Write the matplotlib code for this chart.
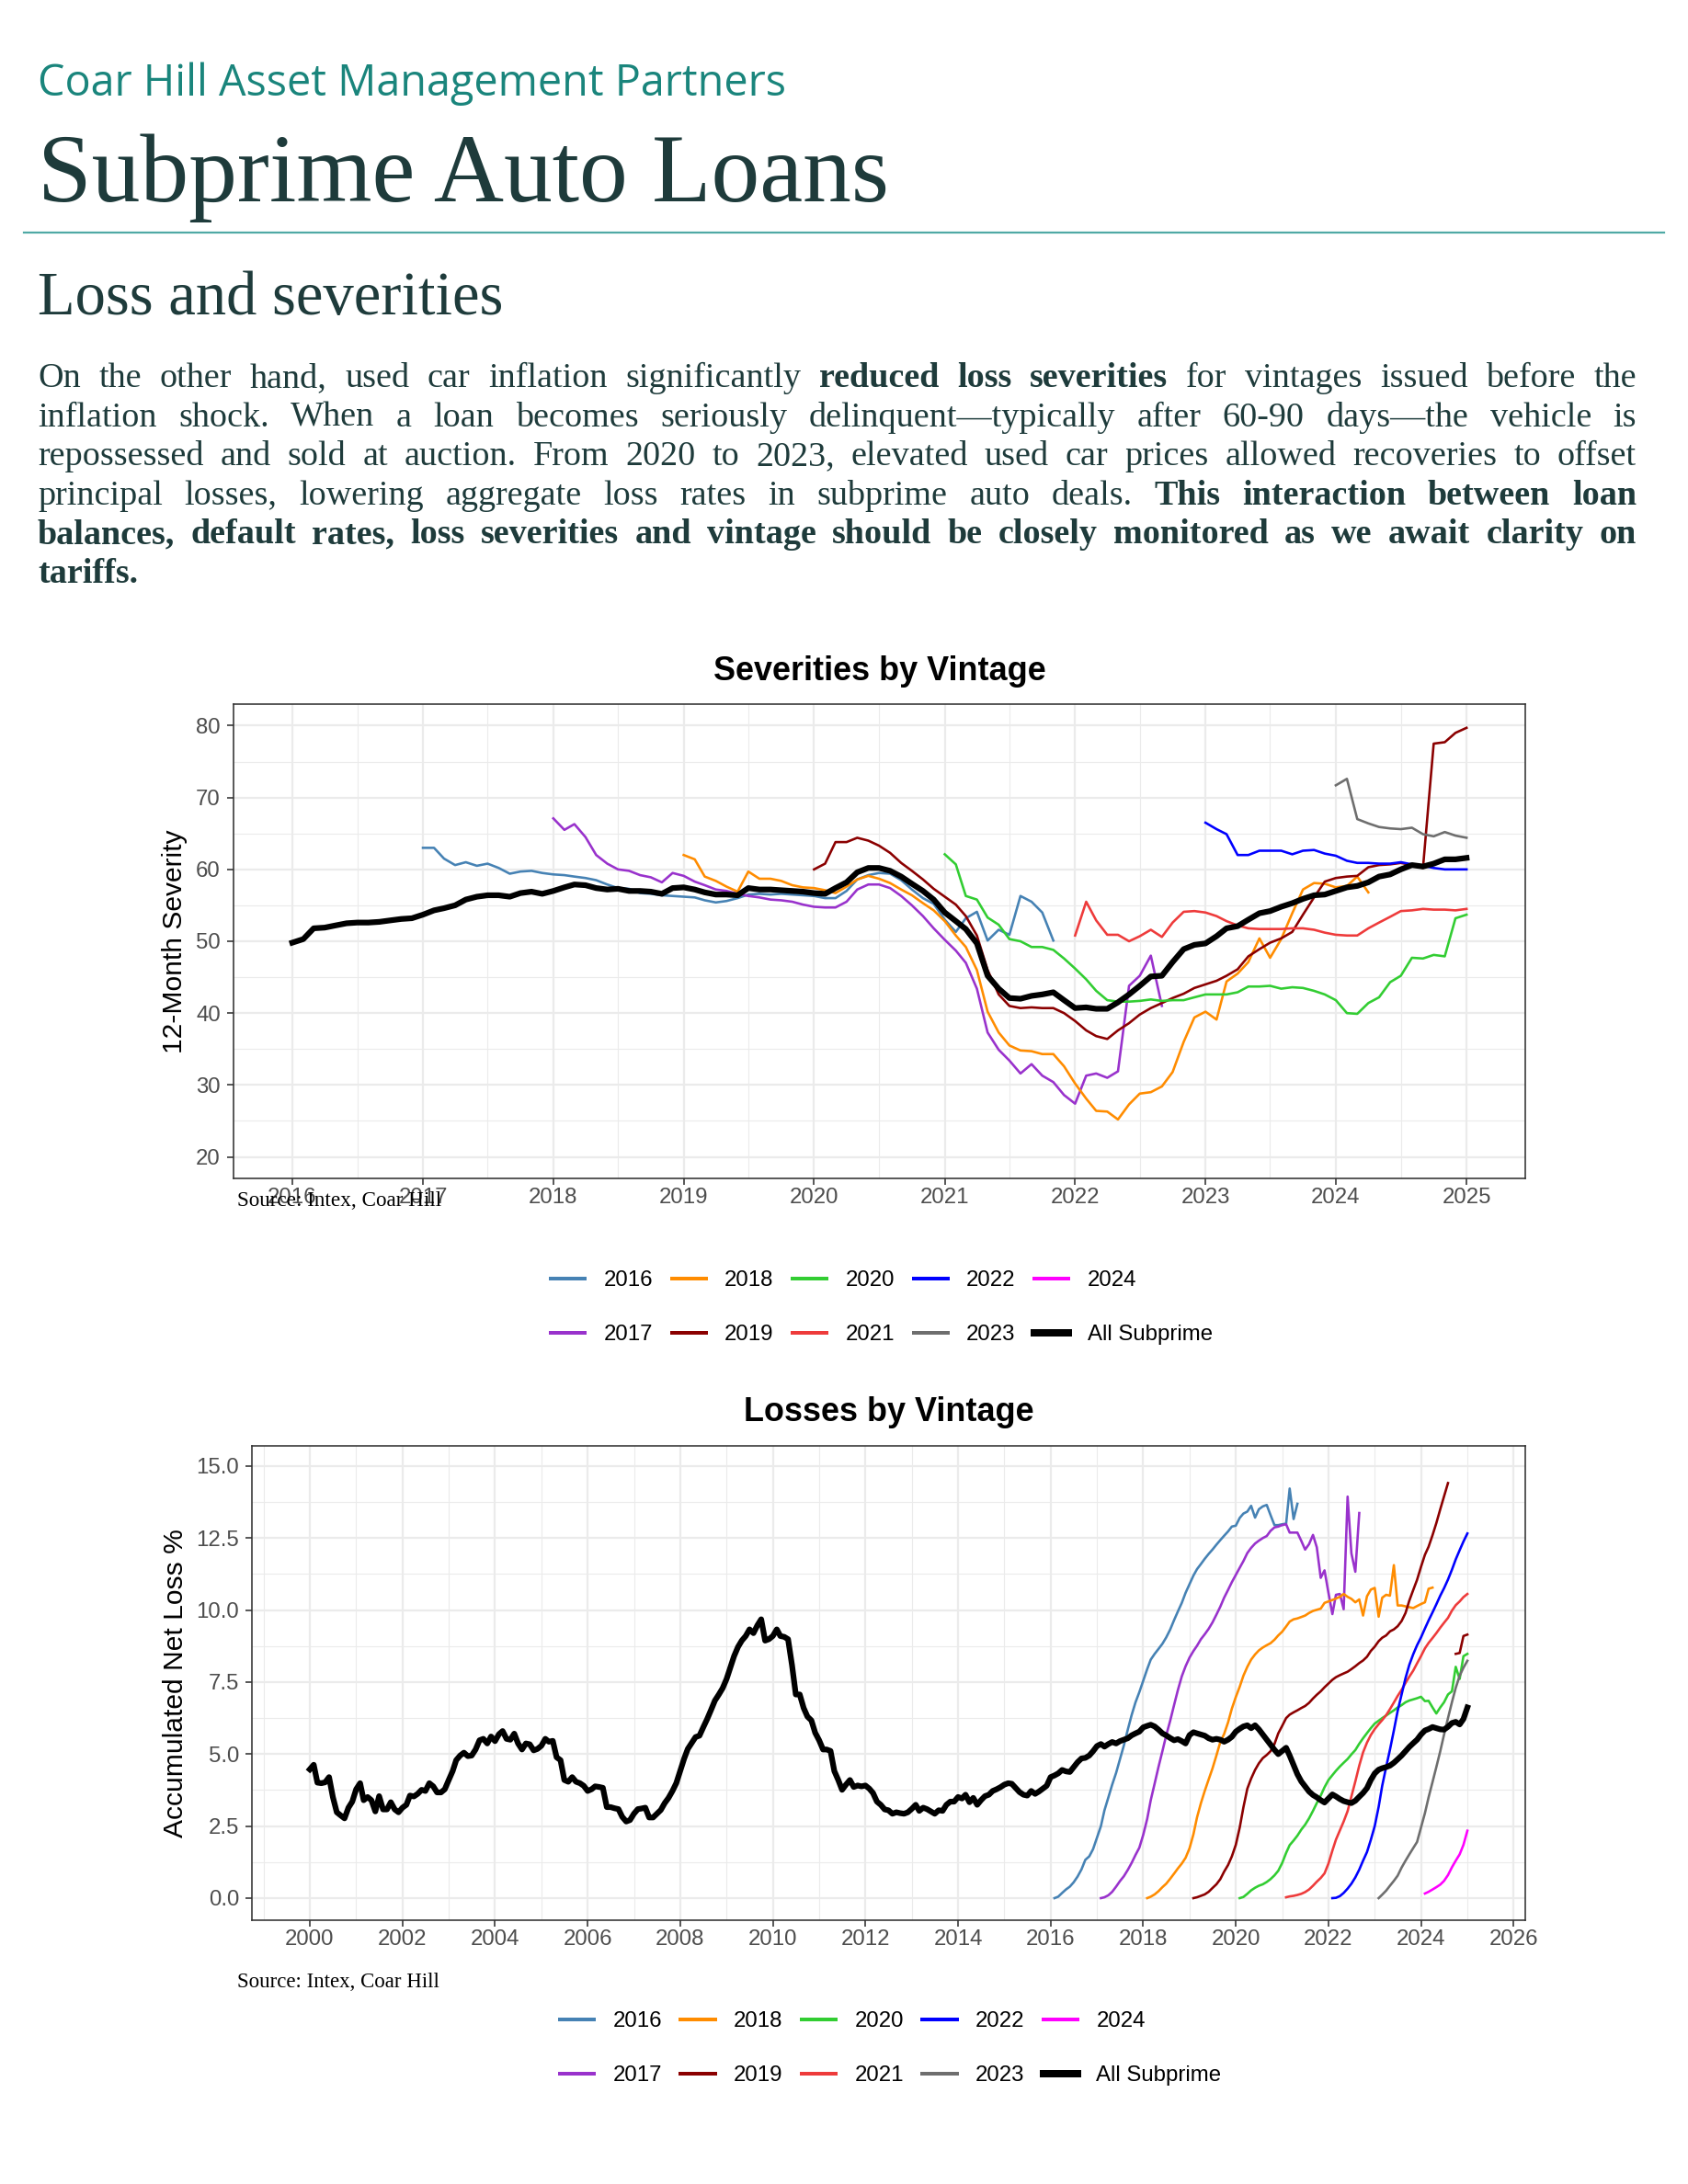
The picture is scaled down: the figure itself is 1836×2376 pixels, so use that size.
import numpy as np
import pandas as pd
import matplotlib
matplotlib.use("Agg")
import matplotlib.pyplot as plt
import matplotlib.dates as mdates
from matplotlib.lines import Line2D
from matplotlib.ticker import MultipleLocator, FormatStrFormatter

W, H, DPI = 1836, 2376, 72

plt.rcParams["font.family"] = ["Liberation Sans", "DejaVu Sans"]

# ---------------------------------------------------------------- data
VINTAGES = ["2016", "2017", "2018", "2019", "2020", "2021", "2022", "2023", "2024"]
VINTAGE_COLORS = ["#4682B4", "#9932CC", "#FF8C00", "#8B0000", "#32CD32",
                  "#EE3B3B", "#0000FF", "#6E6E6E", "#FF00FF"]

# 12-month severity, monthly, first month given in SEV_START
SEV_START = {"2016": "2017-01", "2017": "2018-01", "2018": "2019-01", "2019": "2020-01",
             "2020": "2021-01", "2021": "2022-01", "2022": "2023-01", "2023": "2024-01"}
SEV_2016 = [63.0, 63.0, 61.5, 60.6, 61.0, 60.5, 60.8, 60.2, 59.4, 59.7, 59.8, 59.5,
            59.3, 59.2, 59.0, 58.8, 58.5, 57.9, 57.4, 57.3, 56.7, 56.6, 56.4, 56.3,
            56.2, 56.1, 55.7, 55.4, 55.6, 56.0, 56.5, 56.6, 56.5, 56.6, 56.5, 56.4,
            56.3, 56.0, 56.0, 57.0, 58.6, 59.2, 59.5, 59.4, 58.5, 57.2, 56.0, 55.2,
            53.0, 51.3, 53.2, 54.1, 50.1, 51.6, 50.9, 56.3, 55.5, 54.0, 50.1]
SEV_2017 = [67.1, 65.5, 66.3, 64.5, 62.0, 60.8, 60.0, 59.8, 59.2, 58.9, 58.2, 59.5,
            59.1, 58.3, 57.8, 57.2, 57.0, 56.6, 56.3, 56.1, 55.8, 55.7, 55.5, 55.1,
            54.8, 54.7, 54.7, 55.5, 57.2, 57.9, 57.9, 57.4, 56.3, 55.0, 53.5, 51.8,
            50.2, 48.7, 47.0, 43.4, 37.3, 34.9, 33.4, 31.6, 32.9, 31.3, 30.4, 28.6,
            27.4, 31.3, 31.6, 31.0, 31.9, 43.8, 45.2, 48.0, 41.0]
SEV_2018 = [62.0, 61.4, 59.0, 58.4, 57.6, 56.9, 59.7, 58.7, 58.7, 58.4, 57.8, 57.5,
            57.4, 57.1, 56.7, 57.6, 58.6, 59.1, 58.7, 58.1, 57.2, 56.4, 55.3, 54.3,
            52.8, 50.8, 49.2, 46.0, 40.2, 37.3, 35.5, 34.8, 34.7, 34.3, 34.3, 32.6,
            30.2, 28.1, 26.4, 26.3, 25.2, 27.3, 28.8, 29.0, 29.8, 31.8, 36.0, 39.4,
            40.2, 39.1, 44.4, 45.5, 47.1, 50.4, 47.7, 50.3, 53.9, 57.2, 58.1, 58.0,
            57.5, 57.7, 59.0, 56.8]
SEV_2019 = [60.0, 60.8, 63.8, 63.8, 64.4, 64.0, 63.3, 62.3, 60.9, 59.8, 58.6, 57.3,
            56.2, 55.1, 53.5, 50.8, 46.0, 42.6, 41.0, 40.7, 40.8, 40.7, 40.7, 40.0,
            38.9, 37.6, 36.8, 36.4, 37.6, 38.6, 39.8, 40.7, 41.4, 42.1, 42.7, 43.5,
            44.0, 44.5, 45.2, 46.1, 47.9, 48.9, 49.8, 50.4, 51.3, 53.7, 56.1, 58.3,
            58.8, 59.0, 59.1, 60.3, 60.6, 60.7, 60.9, 60.6, 60.2, 77.5, 77.7, 79.0,
            79.7]
SEV_2020 = [62.1, 60.7, 56.3, 55.8, 53.3, 52.3, 50.3, 50.0, 49.2, 49.2, 48.8, 47.6,
            46.2, 44.7, 43.1, 41.8, 41.6, 41.6, 41.7, 41.9, 41.7, 41.8, 41.8, 42.2,
            42.6, 42.6, 42.6, 42.9, 43.7, 43.7, 43.8, 43.4, 43.6, 43.5, 43.1, 42.6,
            41.8, 40.0, 39.9, 41.4, 42.2, 44.3, 45.2, 47.7, 47.6, 48.1, 47.9, 53.2,
            53.7]
SEV_2021 = [50.8, 55.5, 52.9, 50.9, 50.9, 50.0, 50.7, 51.6, 50.6, 52.6, 54.1, 54.2,
            54.0, 53.5, 52.8, 52.2, 51.8, 51.7, 51.7, 51.7, 51.8, 51.8, 51.6, 51.2,
            50.9, 50.8, 50.8, 51.8, 52.6, 53.4, 54.2, 54.3, 54.5, 54.4, 54.4, 54.3,
            54.5]
SEV_2022 = [66.5, 65.6, 64.9, 62.0, 62.0, 62.6, 62.6, 62.6, 62.1, 62.6, 62.7, 62.2,
            61.9, 61.2, 60.9, 60.9, 60.8, 60.8, 61.0, 60.7, 60.5, 60.2, 60.0, 60.0,
            60.0]
SEV_2023 = [71.7, 72.6, 67.0, 66.4, 65.9, 65.7, 65.6, 65.8, 64.9, 64.6, 65.2, 64.7,
            64.4]
SEV_ALL_START = "2016-01"
SEV_ALL = [49.8, 50.3, 51.8, 51.9, 52.2, 52.5, 52.6, 52.6, 52.7, 52.9, 53.1, 53.2,
           53.7, 54.3, 54.6, 55.0, 55.8, 56.2, 56.4, 56.4, 56.2, 56.7, 56.9, 56.6,
           57.0, 57.5, 57.9, 57.8, 57.4, 57.2, 57.3, 57.0, 57.0, 56.9, 56.6, 57.4,
           57.5, 57.2, 56.8, 56.5, 56.5, 56.4, 57.4, 57.2, 57.2, 57.1, 57.0, 56.9,
           56.7, 56.6, 57.4, 58.2, 59.6, 60.2, 60.2, 59.8, 59.0, 58.0, 57.0, 55.8,
           54.0, 52.8, 51.7, 49.7, 45.2, 43.4, 42.1, 42.0, 42.4, 42.6, 42.9, 41.8,
           40.7, 40.8, 40.6, 40.6, 41.5, 42.6, 43.8, 45.1, 45.2, 47.1, 48.9, 49.5,
           49.7, 50.7, 51.8, 52.1, 53.0, 53.9, 54.2, 54.8, 55.3, 55.9, 56.4, 56.5,
           57.0, 57.5, 57.7, 58.2, 59.0, 59.3, 60.0, 60.6, 60.4, 60.8, 61.4, 61.4,
           61.6]

# accumulated net loss %, monthly
LOSS_START = {"2016": "2016-02", "2017": "2017-02", "2018": "2018-02", "2019": "2019-02",
              "2020": "2020-02", "2021": "2021-02", "2022": "2022-02", "2023": "2023-02",
              "2024": "2024-02"}
LOSS_2016 = [0.0, 0.05, 0.18, 0.3, 0.4, 0.55, 0.75, 1.0, 1.33, 1.45, 1.7,
             2.1, 2.5, 3.05, 3.5, 3.94, 4.35, 4.82, 5.3, 5.85, 6.35, 6.8, 7.15,
             7.55, 7.95, 8.28, 8.48, 8.65, 8.83, 9.05, 9.32, 9.65, 9.95, 10.25, 10.6,
             10.9, 11.2, 11.42, 11.6, 11.78, 11.95, 12.1, 12.27, 12.43, 12.58, 12.73, 12.9,
             12.93, 13.2, 13.35, 13.42, 13.62, 13.21, 13.5, 13.6, 13.65, 13.3, 12.95, 12.95,
             12.98, 13.0, 14.22, 13.16, 13.69]
LOSS_2017 = [0.0, 0.03, 0.1, 0.22, 0.4, 0.59, 0.76, 0.98, 1.22, 1.5, 1.75,
             2.2, 2.75, 3.4, 3.98, 4.55, 5.1, 5.65, 6.15, 6.7, 7.22, 7.7, 8.05,
             8.35, 8.58, 8.76, 8.99, 9.16, 9.35, 9.57, 9.84, 10.12, 10.43, 10.7, 10.97,
             11.22, 11.47, 11.7, 11.98, 12.16, 12.31, 12.41, 12.5, 12.57, 12.75, 12.87, 12.9,
             12.95, 12.98, 12.69, 12.69, 12.69, 12.4, 12.1, 12.29, 12.61, 12.18, 11.12, 11.38,
             10.6, 9.86, 10.53, 10.56, 10.03, 13.94, 11.97, 11.33, 13.37]
LOSS_2018 = [0.0, 0.05, 0.13, 0.24, 0.38, 0.5, 0.67, 0.85, 1.03, 1.2, 1.4,
             1.73, 2.22, 2.8, 3.3, 3.72, 4.12, 4.5, 4.95, 5.42, 5.7, 6.1, 6.58,
             6.98, 7.34, 7.72, 8.03, 8.28, 8.46, 8.6, 8.7, 8.78, 8.85, 8.97, 9.12,
             9.25, 9.43, 9.6, 9.68, 9.71, 9.76, 9.81, 9.9, 9.97, 10.01, 10.05, 10.25,
             10.3, 10.35, 10.4, 10.46, 10.56, 10.46, 10.39, 10.27, 10.37, 9.81, 10.48, 10.71,
             10.77, 9.77, 10.43, 10.53, 10.5, 11.56, 10.16, 10.16, 10.13, 10.1, 10.07, 10.14,
             10.21, 10.27, 10.74, 10.78]
LOSS_2019 = [0.0, 0.03, 0.08, 0.13, 0.22, 0.35, 0.48, 0.66, 0.92, 1.15, 1.45,
             1.85, 2.45, 3.15, 3.8, 4.15, 4.45, 4.68, 4.86, 4.97, 5.1, 5.35, 5.72,
             5.98, 6.25, 6.37, 6.45, 6.52, 6.6, 6.67, 6.78, 6.93, 7.06, 7.18, 7.32,
             7.45, 7.58, 7.67, 7.74, 7.8, 7.86, 7.95, 8.05, 8.16, 8.25, 8.38, 8.58,
             8.73, 8.92, 9.04, 9.12, 9.26, 9.33, 9.44, 9.62, 9.9, 10.33, 10.7, 11.05,
             11.5, 11.92, 12.2, 12.6, 13.02, 13.5, 13.95, 14.41, np.nan, 8.48, 8.51, 9.1,
             9.15]
LOSS_2020 = [0.0, 0.04, 0.15, 0.27, 0.36, 0.43, 0.48, 0.56, 0.66, 0.79, 0.95,
             1.22, 1.57, 1.84, 2.0, 2.17, 2.38, 2.55, 2.77, 3.03, 3.3, 3.56, 3.85,
             4.1, 4.27, 4.42, 4.57, 4.7, 4.83, 4.99, 5.14, 5.36, 5.55, 5.73, 5.9,
             6.06, 6.16, 6.25, 6.34, 6.43, 6.52, 6.62, 6.7, 6.8, 6.86, 6.9, 6.94,
             6.99, 6.84, 6.85, 6.62, 6.41, 6.62, 6.8, 7.07, 7.18, 8.03, 7.61, 8.4,
             8.48]
LOSS_2021 = [0.03, 0.06, 0.08, 0.11, 0.15, 0.21, 0.3, 0.43, 0.57, 0.7, 0.86,
             1.2, 1.65, 2.03, 2.35, 2.66, 3.02, 3.53, 4.05, 4.6, 5.06, 5.4, 5.66,
             5.87, 6.04, 6.18, 6.35, 6.56, 6.79, 7.02, 7.23, 7.47, 7.69, 7.9, 8.15,
             8.4, 8.67, 8.86, 9.03, 9.2, 9.39, 9.56, 9.73, 9.98, 10.17, 10.3, 10.45,
             10.56]
LOSS_2022 = [0.0, 0.01, 0.07, 0.18, 0.33, 0.5, 0.72, 0.99, 1.3, 1.6, 2.02,
             2.5, 3.17, 3.9, 4.55, 5.15, 5.82, 6.5, 7.07, 7.64, 8.1, 8.47, 8.78,
             9.05, 9.36, 9.64, 9.92, 10.2, 10.5, 10.76, 11.06, 11.4, 11.76, 12.08, 12.38,
             12.66]
LOSS_2023 = [0.0, 0.12, 0.26, 0.43, 0.6, 0.78, 1.06, 1.3, 1.52, 1.74, 1.95,
             2.45, 2.95, 3.5, 4.03, 4.55, 5.1, 5.68, 6.25, 6.8, 7.3, 7.72, 8.0,
             8.24]
LOSS_2024 = [0.16, 0.22, 0.3, 0.38, 0.47, 0.6, 0.8, 1.07, 1.3, 1.52, 1.85,
             2.34]
LOSS_ALL_START = "2000-01"
LOSS_ALL = [4.47, 4.63, 4.01, 3.99, 4.02, 4.20, 3.51, 2.98, 2.87, 2.77, 3.14, 3.35,
            3.78, 3.99, 3.40, 3.51, 3.40, 3.01, 3.54, 3.08, 3.08, 3.33, 3.08, 2.98,
            3.14, 3.24, 3.56, 3.53, 3.62, 3.76, 3.72, 3.99, 3.88, 3.67, 3.67, 3.78,
            4.10, 4.41, 4.79, 4.95, 5.05, 4.93, 4.95, 5.16, 5.48, 5.53, 5.37, 5.61,
            5.45, 5.69, 5.80, 5.53, 5.50, 5.71, 5.37, 5.16, 5.37, 5.34, 5.13, 5.18,
            5.29, 5.53, 5.43, 5.46, 4.89, 4.79, 4.10, 4.04, 4.20, 4.04, 3.99, 3.90,
            3.72, 3.78, 3.88, 3.86, 3.83, 3.16, 3.16, 3.12, 3.09, 2.82, 2.66, 2.71,
            2.93, 3.09, 3.11, 3.14, 2.80, 2.80, 2.93, 3.06, 3.30, 3.48, 3.72, 3.99,
            4.41, 4.84, 5.18, 5.39, 5.59, 5.64, 5.93, 6.22, 6.54, 6.86, 7.07, 7.29,
            7.61, 8.03, 8.40, 8.72, 8.94, 9.10, 9.33, 9.20, 9.47, 9.68, 8.94, 8.99,
            9.10, 9.33, 9.10, 9.07, 8.99, 8.09, 7.07, 7.07, 6.60, 6.30, 6.17, 5.74,
            5.48, 5.16, 5.16, 5.11, 4.41, 4.10, 3.76, 3.94, 4.10, 3.86, 3.91, 3.88,
            3.91, 3.80, 3.65, 3.35, 3.24, 3.08, 3.05, 2.93, 2.98, 2.95, 2.93, 2.98,
            3.10, 3.24, 3.03, 3.14, 3.09, 3.01, 2.93, 3.05, 3.03, 3.24, 3.35, 3.35,
            3.51, 3.46, 3.59, 3.33, 3.48, 3.24, 3.40, 3.54, 3.59, 3.72, 3.78, 3.85,
            3.94, 3.99, 3.97, 3.82, 3.68, 3.59, 3.56, 3.72, 3.62, 3.70, 3.80, 3.90,
            4.20, 4.26, 4.33, 4.45, 4.40, 4.38, 4.55, 4.72, 4.85, 4.87, 4.95, 5.10,
            5.28, 5.35, 5.26, 5.35, 5.42, 5.37, 5.45, 5.50, 5.55, 5.65, 5.72, 5.78,
            5.93, 5.98, 6.02, 5.96, 5.85, 5.72, 5.65, 5.56, 5.48, 5.52, 5.45, 5.37,
            5.66, 5.76, 5.72, 5.68, 5.64, 5.55, 5.50, 5.53, 5.50, 5.43, 5.50, 5.60,
            5.78, 5.88, 5.96, 6.00, 5.90, 6.00, 5.86, 5.68, 5.50, 5.32, 5.15, 5.00,
            5.11, 5.22, 4.95, 4.62, 4.30, 4.05, 3.88, 3.70, 3.58, 3.50, 3.40, 3.32,
            3.46, 3.60, 3.53, 3.44, 3.37, 3.33, 3.30, 3.38, 3.52, 3.65, 3.82, 4.10,
            4.33, 4.46, 4.51, 4.55, 4.60, 4.70, 4.82, 4.95, 5.10, 5.25, 5.38, 5.50,
            5.68, 5.82, 5.87, 5.94, 5.90, 5.86, 5.85, 5.95, 6.08, 6.12, 6.03, 6.22,
            6.62]

SEV_SERIES = {"2016": SEV_2016, "2017": SEV_2017, "2018": SEV_2018, "2019": SEV_2019,
              "2020": SEV_2020, "2021": SEV_2021, "2022": SEV_2022, "2023": SEV_2023}
LOSS_SERIES = {"2016": LOSS_2016, "2017": LOSS_2017, "2018": LOSS_2018, "2019": LOSS_2019,
               "2020": LOSS_2020, "2021": LOSS_2021, "2022": LOSS_2022, "2023": LOSS_2023,
               "2024": LOSS_2024}

PARAGRAPH = [
    "On the other hand, used car inflation significantly **reduced loss severities** for vintages issued before the",
    "inflation shock. When a loan becomes seriously delinquent\u2014typically after 60-90 days\u2014the vehicle is",
    "repossessed and sold at auction. From 2020 to 2023, elevated used car prices allowed recoveries to offset",
    "principal losses, lowering aggregate loss rates in subprime auto deals. **This interaction between loan**",
    "**balances, default rates, loss severities and vintage should be closely monitored as we await clarity on**",
    "**tariffs.**",
]

TEAL = "#1a857c"
DARK = "#1e3b3b"
SERIF = ["Liberation Serif", "DejaVu Serif"]


def monthly(start, values):
    return pd.date_range(start, periods=len(values), freq="MS")


fig = plt.figure(figsize=(W / DPI, H / DPI), dpi=DPI)
renderer = fig.canvas.get_renderer()


def fx(x):
    return x / W


def fy(y):
    return 1 - y / H


def width_of(s, **kw):
    t = fig.text(0, 0, s, **kw)
    w = t.get_window_extent(renderer).width
    t.remove()
    return w


def fit_text(x, y, s, width, **kw):
    size = 40 * width / width_of(s, fontsize=40, **kw)
    return fig.text(fx(x), fy(y), s, fontsize=size, va="baseline", **kw)


# ---------------------------------------------------------------- header
fit_text(41, 104, "Coar Hill Asset Management Partners", 814, family="Open Sans", color=TEAL)
fit_text(41, 219, "Subprime Auto Loans", 925, family=SERIF, color=DARK)
fig.add_artist(Line2D([fx(26), fx(1810)], [fy(253), fy(253)], color="#4fa9a5", lw=2.2))
fit_text(41, 342, "Loss and severities", 507, family=SERIF, color=DARK)


def parse_line(line, bold):
    words = []
    for tok in line.split(" "):
        if tok.startswith("**"):
            tok, bold = tok[2:], True
        b = bold
        if tok.endswith("**"):
            tok, bold = tok[:-2], False
        words.append((tok, b))
    return words, bold


left, right = 41, 1780
fs = 34.0
parsed, bold = [], False
for line in PARAGRAPH:
    words, bold = parse_line(line, bold)
    parsed.append(words)


def measure(words, size):
    return [width_of(w, fontsize=size, family=SERIF,
                     fontweight="bold" if b else "normal") for w, b in words]


space = width_of("a a", fontsize=fs, family=SERIF) - width_of("aa", fontsize=fs, family=SERIF)
ratio = min((right - left) / (sum(measure(ws, fs)) + space * (len(ws) - 1))
            for ws in parsed[:-1])
ratio = min(ratio * 0.99, 1.12)
fs *= ratio
space *= ratio

for i, words in enumerate(parsed):
    y = 421 + 42.6 * i
    widths = measure(words, fs)
    last = i == len(parsed) - 1
    gap = space if last else (right - left - sum(widths)) / (len(words) - 1)
    x = left
    for (w, b), wd in zip(words, widths):
        fig.text(fx(x), fy(y), w, fontsize=fs, family=SERIF, color=DARK, va="baseline",
                 fontweight="bold" if b else "normal")
        x += wd + gap


# ---------------------------------------------------------------- charts
def style(ax):
    for s in ax.spines.values():
        s.set_color("#333333")
        s.set_linewidth(1.6)
    ax.grid(which="major", color="#EBEBEB", linewidth=2.2)
    ax.grid(which="minor", color="#EBEBEB", linewidth=1.1)
    ax.set_axisbelow(True)
    ax.tick_params(which="major", length=7, width=1.6, color="#333333",
                   labelsize=24, labelcolor="#4D4D4D")
    ax.tick_params(axis="x", which="major", pad=3)
    ax.tick_params(axis="y", which="major", pad=7)
    ax.tick_params(which="minor", length=0)


def draw(ax, series, starts, all_start, all_values):
    for name, color in zip(VINTAGES, VINTAGE_COLORS):
        if name in series:
            vals = series[name]
            ax.plot(monthly(starts[name], vals), vals, color=color, lw=2.6,
                    solid_joinstyle="round")
    d = monthly(all_start, all_values)
    ax.plot(d, all_values, color="black", lw=6.2, solid_joinstyle="round")
    pad = (d[-1] - d[0]) * 0.05
    ax.set_xlim(d[0] - pad, d[-1] + pad)
    ax.xaxis.set_major_formatter(mdates.DateFormatter("%Y"))


def legend(cx, cy):
    handles = [Line2D([], [], color=c, lw=4) for c in VINTAGE_COLORS]
    handles.append(Line2D([], [], color="black", lw=8))
    fig.legend(handles, VINTAGES + ["All Subprime"], ncol=5, loc="center",
               bbox_to_anchor=(fx(cx), fy(cy)), frameon=False, fontsize=24,
               handlelength=1.55, handletextpad=0.85, columnspacing=0.85,
               labelspacing=1.55)


# severities
ax1 = fig.add_axes([fx(254), fy(1282), (1659 - 254) / W, (1282 - 766) / H])
draw(ax1, SEV_SERIES, SEV_START, SEV_ALL_START, SEV_ALL)
ax1.set_ylim(17, 83)
ax1.yaxis.set_major_locator(MultipleLocator(10))
ax1.yaxis.set_minor_locator(MultipleLocator(5))
ax1.xaxis.set_major_locator(mdates.YearLocator(1))
ax1.xaxis.set_minor_locator(mdates.MonthLocator(bymonth=7))
style(ax1)
fig.text(fx(956.5), fy(731), "Severities by Vintage", ha="center", va="center",
         fontsize=36, fontweight="bold")
fig.text(fx(190), fy(1024), "12-Month Severity", rotation=90, ha="center",
         va="center", fontsize=30)
src = width_of("Source: Intex, Coar Hill", fontsize=20, family=SERIF)
fig.text(fx(258), fy(1307), "Source: Intex, Coar Hill", fontsize=20 * 222 / src,
         family=SERIF, va="center")
legend(959, 1422.5)

# losses
ax2 = fig.add_axes([fx(274), fy(2088.5), (1659 - 274) / W, (2088.5 - 1573) / H])
draw(ax2, LOSS_SERIES, LOSS_START, LOSS_ALL_START, LOSS_ALL)
ax2.set_ylim(-0.75, 15.7)
ax2.yaxis.set_major_locator(MultipleLocator(2.5))
ax2.yaxis.set_minor_locator(MultipleLocator(1.25))
ax2.yaxis.set_major_formatter(FormatStrFormatter("%.1f"))
ax2.xaxis.set_major_locator(mdates.YearLocator(2))
ax2.xaxis.set_minor_locator(mdates.YearLocator(1))
style(ax2)
fig.text(fx(966.5), fy(1537), "Losses by Vintage", ha="center", va="center",
         fontsize=36, fontweight="bold")
fig.text(fx(190.6), fy(1831), "Accumulated Net Loss %", rotation=90, ha="center",
         va="center", fontsize=30)
fig.text(fx(258), fy(2157), "Source: Intex, Coar Hill", fontsize=20 * 220 / src,
         family=SERIF, va="center")
legend(968.7, 2228.5)

fig.savefig("out.png", dpi=DPI, facecolor="white")
